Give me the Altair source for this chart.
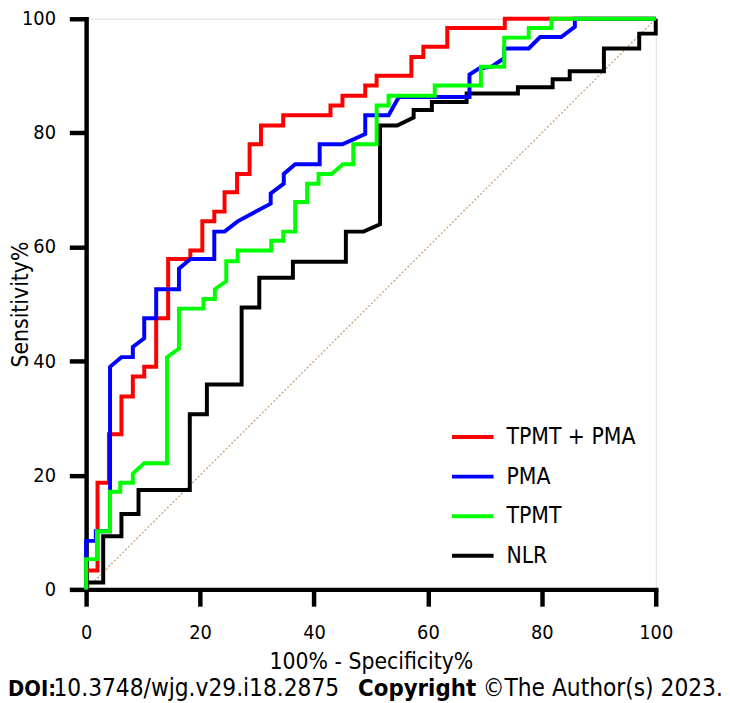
import altair as alt
import pandas as pd

FONT = "DejaVu Sans Condensed, DejaVu Sans, sans-serif"

series_names = ["TPMT + PMA", "PMA", "TPMT", "NLR"]
series_colors = ["#ff0000", "#0000ff", "#00ff00", "#000000"]
draw_order = ["NLR", "TPMT + PMA", "PMA", "TPMT"]

red_x = [0, 0, 2.0, 2.0, 4.0, 4.0, 6.2, 6.2, 8.2, 8.2, 10.2, 10.2, 12.3, 12.3, 14.4, 14.4,
         18.3, 18.3, 20.4, 20.4, 22.5, 22.5, 24.3, 24.3, 26.5, 26.5, 28.7, 28.7, 30.7, 30.7,
         34.6, 34.6, 42.9, 42.9, 45.0, 45.0, 49.0, 49.0, 51.0, 51.0, 57.1, 57.1, 59.2, 59.2,
         63.4, 63.4, 73.5, 73.5, 100]
red_y = [0, 3.3, 3.3, 18.7, 18.7, 27.2, 27.2, 33.8, 33.8, 37.3, 37.3, 39.0, 39.0, 47.5, 47.5,
         57.9, 57.9, 59.4, 59.4, 64.5, 64.5, 66.2, 66.2, 69.6, 69.6, 72.8, 72.8, 78.0, 78.0,
         81.3, 81.3, 83.1, 83.1, 84.8, 84.8, 86.5, 86.5, 88.3, 88.3, 90.0, 90.0, 93.3, 93.3,
         95.1, 95.1, 98.4, 98.4, 100, 100]

blue_x = [0, 0, 1.7, 1.7, 4.2, 4.2, 6.2, 8.2, 8.2, 10.2, 10.2, 12.3, 12.3, 16.3, 16.3, 18.3,
          22.5, 22.5, 24.3, 26.6, 32.4, 32.4, 34.7, 34.7, 36.7, 41.0, 41.0, 45.0, 49.0, 49.0,
          53.1, 54.9, 67.3, 67.3, 69.0, 71.2, 73.4, 73.4, 77.7, 79.7, 83.4, 85.8, 85.8, 100]
blue_y = [0, 8.5, 8.5, 10.2, 10.2, 39.0, 40.7, 40.7, 42.5, 44.0, 47.5, 47.5, 52.6, 52.6, 56.2,
          57.9, 57.9, 62.7, 62.7, 64.5, 67.6, 69.4, 71.1, 72.8, 74.5, 74.5, 78.0, 78.0, 79.8,
          83.1, 83.1, 86.3, 86.3, 90.2, 91.3, 91.6, 93.1, 94.8, 94.8, 96.8, 96.8, 98.6, 100, 100]

green_x = [0, 0, 1.9, 1.9, 4.2, 4.2, 6.0, 6.0, 8.2, 8.2, 10.2, 14.2, 14.2, 16.3, 16.3, 20.6,
           20.6, 22.6, 22.6, 24.6, 24.6, 26.6, 26.6, 32.5, 32.5, 34.6, 34.6, 36.7, 36.7, 38.8,
           38.8, 40.8, 40.8, 43.1, 45.1, 46.9, 46.9, 51.0, 51.0, 53.1, 53.1, 61.2, 61.2, 69.3,
           69.3, 73.4, 73.4, 77.7, 77.7, 81.7, 81.7, 100]
green_y = [0, 5.3, 5.3, 10.2, 10.2, 17.1, 17.1, 18.7, 18.7, 20.3, 22.1, 22.1, 40.7, 42.2, 49.2,
           49.2, 50.9, 50.9, 52.6, 54.0, 57.5, 57.5, 59.4, 59.4, 61.1, 61.1, 62.7, 62.7, 67.9,
           67.9, 71.1, 71.1, 72.8, 72.8, 74.5, 74.5, 78.0, 78.0, 84.8, 84.8, 86.5, 86.5, 88.3,
           88.3, 91.6, 91.6, 96.7, 96.7, 98.4, 98.4, 100, 100]

black_x = [0, 0, 3.0, 3.0, 6.2, 6.2, 9.2, 9.2, 18.2, 18.2, 21.2, 21.2, 27.3, 27.3, 30.4, 30.4,
           36.3, 36.3, 45.6, 45.6, 48.7, 51.6, 51.6, 54.6, 57.5, 57.5, 60.7, 60.7, 66.8, 66.8,
           75.8, 75.8, 81.9, 81.9, 84.9, 84.9, 90.9, 90.9, 97.1, 97.1, 100, 100]
black_y = [0, 1.2, 1.2, 9.3, 9.3, 13.2, 13.2, 17.4, 17.4, 30.7, 30.7, 35.9, 35.9, 49.4, 49.4,
           54.6, 54.6, 57.4, 57.4, 62.7, 62.7, 64.0, 81.3, 81.3, 82.7, 84.0, 84.0, 85.4, 85.4,
           86.9, 86.9, 88.0, 88.0, 89.4, 89.4, 90.8, 90.8, 94.8, 94.8, 97.4, 97.4, 100]

diag_x = [0, 100]
diag_y = [0, 100]

x_ticks = [0, 20, 40, 60, 80, 100]
y_ticks = [0, 20, 40, 60, 80, 100]

series_data = {
    "TPMT + PMA": (red_x, red_y),
    "PMA": (blue_x, blue_y),
    "TPMT": (green_x, green_y),
    "NLR": (black_x, black_y),
}

rows = []
for name, (xs, ys) in series_data.items():
    for i, (xv, yv) in enumerate(zip(xs, ys)):
        rows.append({"series": name, "fpr": xv, "sens": yv, "idx": i})
df = pd.DataFrame(rows)
diag_df = pd.DataFrame({"fpr": diag_x, "sens": diag_y})

x_enc = alt.X(
    "fpr:Q",
    scale=alt.Scale(domain=[0, 100], nice=False, zero=False),
    axis=alt.Axis(
        values=x_ticks, grid=False, domainColor="black", domainWidth=4.5, domainCap="square",
        tickColor="black", tickWidth=4.5, tickSize=17, labelFont=FONT, labelFontSize=20,
        labelColor="black", labelPadding=17, labelFlush=False, titleFont=FONT, titleFontSize=23,
        titleFontWeight="normal", titleColor="black", titleY=73, titleBaseline="middle",
    ),
    title="100% - Specificity%",
)
y_enc = alt.Y(
    "sens:Q",
    scale=alt.Scale(domain=[0, 100], nice=False, zero=False),
    axis=alt.Axis(
        values=y_ticks, grid=False, domainColor="black", domainWidth=4.5, domainCap="square",
        tickColor="black", tickWidth=4.5, tickSize=17, labelFont=FONT, labelFontSize=20,
        labelColor="black", labelPadding=14, labelFlush=False, titleFont=FONT, titleFontSize=23,
        titleFontWeight="normal", titleColor="black", titleX=-66, titleY=288.5,
        titleAngle=270, titleAlign="center", titleBaseline="middle",
    ),
    title="Sensitivity%",
)
color_enc = alt.Color(
    "series:N",
    scale=alt.Scale(domain=series_names, range=series_colors),
    legend=alt.Legend(
        orient="none", legendX=368, legendY=400, title=None, symbolType="stroke",
        symbolSize=1764, symbolStrokeWidth=4, labelFont=FONT, labelFontSize=23,
        labelColor="black", padding=0, rowPadding=5, labelOffset=11,
    ),
)

diag = alt.Chart(diag_df).mark_line(
    color="#c9a07a", strokeWidth=1.3, strokeDash=[2, 2]
).encode(x=x_enc, y=y_enc)

layers = [diag]
for name in draw_order:
    layers.append(
        alt.Chart(df).transform_filter(alt.datum.series == name).mark_line(
            strokeWidth=4, strokeJoin="miter"
        ).encode(x=x_enc, y=y_enc, color=color_enc, order="idx:Q")
    )

one = pd.DataFrame({"k": [0]})
footer_parts = [
    ("DOI:", "bold", 22, -79),
    ("10.3748/wjg.v29.i18.2875", "normal", 24.5, -33),
    ("Copyright", "bold", 24, 275),
    ("©The Author(s) 2023.", "normal", 24.5, 401),
]
for txt, wt, fs, xpos in footer_parts:
    layers.append(
        alt.Chart(one).mark_text(
            align="left", baseline="middle", font=FONT, fontSize=fs, fontWeight=wt, color="black"
        ).encode(x=alt.value(xpos), y=alt.value(678), text=alt.value(txt))
    )

chart = alt.layer(*layers).properties(
    width=576, height=577,
    padding={"left": 79, "top": 7, "right": 67, "bottom": 111},
    autosize=alt.AutoSizeParams(type="none"),
).configure_view(stroke=None).configure(background="white")

chart.save("out.html", embed_options={"renderer": "svg", "actions": False})
